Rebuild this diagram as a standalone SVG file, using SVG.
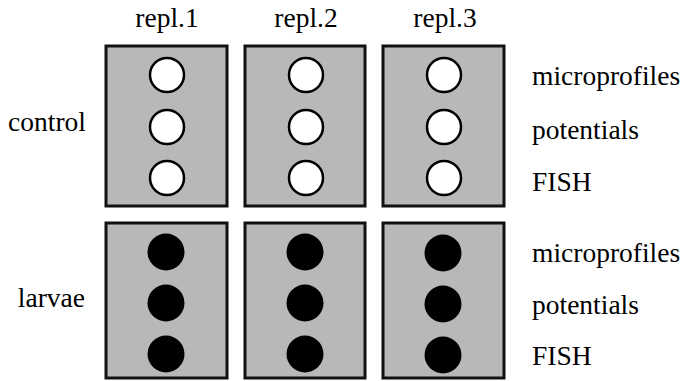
<svg xmlns="http://www.w3.org/2000/svg" width="683" height="381" viewBox="0 0 683 381">
<style>
text{font-family:'Liberation Serif','Times New Roman',serif;font-size:27.5px;fill:#000}
.box{fill:#b8b8b8;stroke:#111;stroke-width:3}
.open{fill:#fff;stroke:#000;stroke-width:2.5}
.full{fill:#000}
</style>
<rect width="683" height="381" fill="#fff"/>
<g id="headers">
<text x="167" y="27" text-anchor="middle">repl.1</text>
<text x="306" y="27" text-anchor="middle">repl.2</text>
<text x="445" y="27" text-anchor="middle">repl.3</text>
</g>
<g id="rowlabels">
<text x="86" y="131" text-anchor="end">control</text>
<text x="85" y="307" text-anchor="end">larvae</text>
</g>
<g id="control-repl1">
<rect class="box" x="106" y="46" width="121" height="160"/>
<circle class="open" cx="167" cy="75" r="17"/>
<circle class="open" cx="167" cy="127" r="17"/>
<circle class="open" cx="167" cy="178" r="17"/>
</g>
<g id="control-repl2">
<rect class="box" x="245" y="46" width="120" height="160"/>
<circle class="open" cx="306" cy="75" r="17"/>
<circle class="open" cx="306" cy="127" r="17"/>
<circle class="open" cx="306" cy="178" r="17"/>
</g>
<g id="control-repl3">
<rect class="box" x="383" y="46" width="121" height="160"/>
<circle class="open" cx="444" cy="75" r="17"/>
<circle class="open" cx="444" cy="127" r="17"/>
<circle class="open" cx="444" cy="178" r="17"/>
</g>
<g id="larvae-repl1">
<rect class="box" x="106" y="223" width="121" height="155"/>
<circle class="full" cx="166" cy="252" r="18.5"/>
<circle class="full" cx="166" cy="303" r="18.5"/>
<circle class="full" cx="166" cy="354" r="18.5"/>
</g>
<g id="larvae-repl2">
<rect class="box" x="245" y="223" width="120" height="155"/>
<circle class="full" cx="305" cy="252" r="18.5"/>
<circle class="full" cx="305" cy="303" r="18.5"/>
<circle class="full" cx="305" cy="354" r="18.5"/>
</g>
<g id="larvae-repl3">
<rect class="box" x="383" y="223" width="121" height="155"/>
<circle class="full" cx="443" cy="253" r="18.5"/>
<circle class="full" cx="443" cy="304" r="18.5"/>
<circle class="full" cx="443" cy="355" r="18.5"/>
</g>
<g id="collabels">
<text x="532" y="85">microprofiles</text>
<text x="532" y="139">potentials</text>
<text x="532" y="191">FISH</text>
<text x="532" y="262">microprofiles</text>
<text x="532" y="314">potentials</text>
<text x="532" y="365">FISH</text>
</g>
<g id="connectors"/>
</svg>
